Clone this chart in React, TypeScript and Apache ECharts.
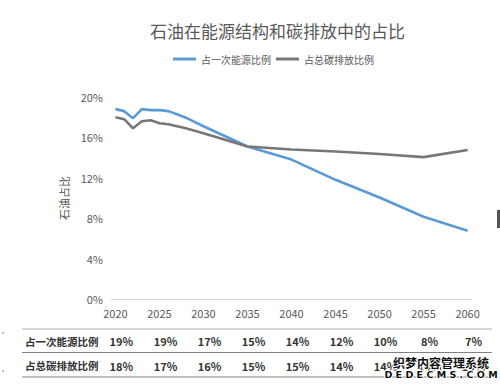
import React, { useEffect, useRef } from "react";
import * as echarts from "echarts";

const years = [2020, 2021, 2022, 2023, 2024, 2025, 2026, 2027, 2028, 2030, 2035, 2040, 2045, 2050, 2055, 2060];
const primaryShare = [18.8, 18.6, 17.9, 18.8, 18.7, 18.7, 18.6, 18.3, 17.95, 17.1, 15.1, 13.8, 11.8, 10.05, 8.15, 6.75];
const carbonShare = [18.0, 17.8, 16.9, 17.6, 17.7, 17.4, 17.3, 17.1, 16.9, 16.4, 15.1, 14.8, 14.6, 14.35, 14.05, 14.75];

const tableYears = [2020, 2025, 2030, 2035, 2040, 2045, 2050, 2055, 2060];
const primaryRow = ["19%", "19%", "17%", "15%", "14%", "12%", "10%", "8%", "7%"];
const carbonRow = ["18%", "17%", "16%", "15%", "15%", "14%", "14%", "14%", "15%"];
const yTicks = [0, 4, 8, 12, 16, 20];

const seriesNames = ["占一次能源比例", "占总碳排放比例"];
const rowNames = ["占一次能源比例", "占总碳排放比例"];

const FONT = '"Noto Sans CJK SC", "Noto Sans", sans-serif';

export default function App() {
  const ref = useRef<HTMLDivElement>(null);
  useEffect(() => {
    if (!ref.current) return;
    const chart = echarts.init(ref.current, undefined, { renderer: "svg" });
    const lookup = (row: string[]) => (v: number) => {
      const i = tableYears.indexOf(Math.round(v));
      return i >= 0 ? row[i] : "";
    };
    const tableAxis = (offset: number, row: string[]) => ({
      type: "value",
      position: "bottom",
      gridIndex: 0,
      min: 2019.5,
      max: 2060.5,
      offset,
      axisLine: { show: false },
      axisTick: { show: false },
      splitLine: { show: false },
      axisLabel: {
        customValues: tableYears,
        formatter: lookup(row),
        color: "#333",
        fontSize: 11,
        fontWeight: "bold",
        fontFamily: FONT,
        margin: 8,
        padding: [0, 0, 0, 12],
      },
    });
    chart.setOption({
      animation: false,
      backgroundColor: "#fff",
      textStyle: { fontFamily: FONT },
      title: {
        text: "石油在能源结构和碳排放中的占比",
        left: 145,
        top: 17,
        textStyle: { fontSize: 17, fontWeight: "normal", color: "#595959", fontFamily: FONT },
      },
      legend: {
        data: seriesNames,
        left: 168,
        top: 49,
        icon: "rect",
        itemWidth: 23,
        itemHeight: 3,
        itemGap: 5,
        textStyle: { fontSize: 10, color: "#595959", fontFamily: FONT },
      },
      grid: { left: 111, right: 28, top: 97, bottom: 90, containLabel: false },
      xAxis: [
        {
          type: "value",
          min: 2019.5,
          max: 2060.5,
          axisLine: { show: true, lineStyle: { color: "#d9d9d9", width: 1 } },
          axisTick: { show: false },
          splitLine: { show: false },
          axisLabel: {
            customValues: tableYears,
            formatter: (v: number) => String(v),
            color: "#595959",
            fontSize: 11,
            margin: 8,
            fontFamily: FONT,
          },
        },
        tableAxis(28, primaryRow),
        tableAxis(53, carbonRow),
      ],
      yAxis: {
        type: "value",
        min: 0,
        max: 20,
        interval: 4,
        name: "石油占比",
        nameLocation: "middle",
        nameGap: 33,
        nameTextStyle: { fontSize: 11, color: "#595959", fontFamily: FONT },
        axisLine: { show: false },
        axisTick: { show: false },
        splitLine: { show: false },
        axisLabel: {
          customValues: yTicks,
          formatter: (v: number) => v + "%",
          color: "#595959",
          fontSize: 11,
          margin: 8,
          fontFamily: FONT,
        },
      },
      series: [
        {
          name: seriesNames[0],
          type: "line",
          xAxisIndex: 0,
          data: years.map((y, i) => [y, primaryShare[i]]),
          showSymbol: false,
          symbol: "none",
          lineStyle: { color: "#5b9bd5", width: 2.6 },
          itemStyle: { color: "#5b9bd5" },
        },
        {
          name: seriesNames[1],
          type: "line",
          xAxisIndex: 0,
          data: years.map((y, i) => [y, carbonShare[i]]),
          showSymbol: false,
          symbol: "none",
          lineStyle: { color: "#777777", width: 2.6 },
          itemStyle: { color: "#777777" },
        },
      ],
      graphic: [
        { type: "line", shape: { x1: 22, y1: 329, x2: 492, y2: 329 }, style: { stroke: "#b0b0b0", lineWidth: 1 } },
        { type: "line", shape: { x1: 22, y1: 352.5, x2: 492, y2: 352.5 }, style: { stroke: "#808080", lineWidth: 1 } },
        { type: "line", shape: { x1: 22, y1: 377, x2: 492, y2: 377 }, style: { stroke: "#808080", lineWidth: 1 } },
        {
          type: "text",
          x: 25,
          y: 341,
          style: { text: rowNames[0], fill: "#333", fontSize: 10.5, fontWeight: "bold", fontFamily: FONT, verticalAlign: "middle" },
        },
        {
          type: "text",
          x: 25,
          y: 365,
          style: { text: rowNames[1], fill: "#333", fontSize: 10.5, fontWeight: "bold", fontFamily: FONT, verticalAlign: "middle" },
        },
        { type: "rect", shape: { x: 497, y: 210, width: 3, height: 18 }, style: { fill: "#555" } },
        { type: "circle", shape: { cx: 3, cy: 333, r: 0.8 }, style: { fill: "#999" } },
        { type: "circle", shape: { cx: 3, cy: 371, r: 0.8 }, style: { fill: "#999" } },
        {
          type: "text",
          x: 441,
          y: 362,
          z: 100,
          style: {
            text: "织梦内容管理系统",
            fill: "#111",
            stroke: "#fff",
            lineWidth: 2,
            fontSize: 12,
            fontWeight: "bold",
            fontFamily: FONT,
            align: "center",
            verticalAlign: "middle",
          },
        },
        {
          type: "text",
          x: 441,
          y: 374,
          z: 100,
          style: {
            text: "D E D E C M S . C O M",
            fill: "#111",
            stroke: "#fff",
            lineWidth: 2,
            fontSize: 9.5,
            fontWeight: "bold",
            fontFamily: '"DejaVu Sans", sans-serif',
            align: "center",
            verticalAlign: "middle",
          },
        },
      ],
    });
    return () => chart.dispose();
  }, []);
  return (
    <div
      ref={ref}
      style={{ position: "fixed", left: 0, top: 0, width: 500, height: 389, background: "#fff" }}
    />
  );
}
